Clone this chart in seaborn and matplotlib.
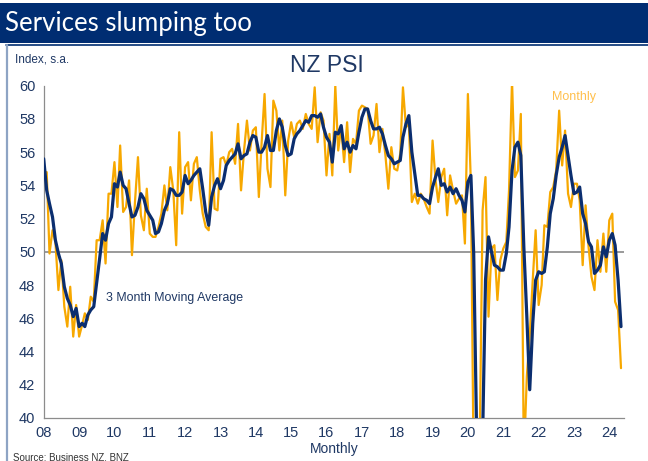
import numpy as np
import pandas as pd
import matplotlib
matplotlib.use('Agg')
import matplotlib.pyplot as plt
import matplotlib.dates as mdates
import seaborn as sns
from matplotlib.patches import Rectangle
from matplotlib.lines import Line2D

# --- Data: NZ Performance of Services Index, Jan 2008 - May 2024 ---
first_month = '2008-01-01'
last_month = '2024-05-01'

monthly = [
    54.0, 54.8, 49.9, 51.3, 50.6, 47.7, 49.5, 46.7, 45.5, 47.9, 44.9, 46.8,  # 2008
    44.9, 45.6, 46.3, 45.9, 47.3, 47.0, 50.7, 50.7, 51.9, 49.3, 53.5, 53.5,  # 2009
    55.4, 52.7, 56.4, 52.4, 52.7, 54.3, 49.8, 53.0, 55.7, 52.2, 51.3, 53.8,  # 2010
    51.1, 50.9, 50.9, 51.5, 52.3, 54.0, 52.5, 55.1, 53.7, 50.4, 57.2, 52.3,  # 2011
    55.1, 55.4, 53.1, 55.3, 55.7, 53.7, 52.3, 51.5, 51.3, 57.2, 52.6, 52.5,  # 2012
    55.6, 55.7, 55.2, 56.0, 56.2, 55.3, 57.7, 53.7, 56.1, 57.9, 56.1, 57.3,  # 2013
    57.5, 53.3, 56.5, 59.5, 55.0, 53.9, 59.1, 58.5, 56.1, 57.9, 53.4, 56.7,  # 2014
    57.8, 56.9, 57.7, 57.9, 57.4, 58.3, 57.7, 57.4, 59.9, 56.6, 58.4, 57.9,  # 2015
    54.6, 57.1, 54.6, 60.0, 56.1, 57.5, 55.4, 57.8, 54.8, 56.8, 56.5, 58.5,  # 2016
    58.8, 58.7, 58.6, 56.5, 57.0, 58.9, 56.0, 57.4, 55.8, 53.8, 56.3, 55.0,  # 2017
    54.9, 55.9, 59.9, 57.5, 57.7, 53.0, 53.5, 52.9, 53.5, 53.2, 52.7, 52.3,  # 2018
    56.7, 54.3, 53.0, 54.5, 55.0, 52.2, 54.6, 53.7, 52.9, 53.2, 53.4, 50.5,  # 2019
    59.5, 54.1, 36.5, 25.9, 38.0, 52.5, 54.5, 46.1, 50.2, 50.4, 47.1, 49.5,  # 2020
    50.2, 50.6, 53.7, 60.3, 54.5, 54.9, 58.3, 37.5, 42.5, 45.0, 48.3, 51.3,  # 2021
    46.8, 48.0, 51.6, 51.5, 53.6, 53.9, 54.9, 58.5, 55.2, 57.3, 53.5, 52.7,  # 2022
    54.1, 54.1, 53.1, 49.2, 52.8, 50.3, 48.5, 47.7, 50.7, 48.8, 51.1, 48.8,  # 2023
    51.9, 52.3, 47.0, 46.5, 43.0,                                            # 2024
]

moving_avg = [
    55.6, 53.7, 52.9, 52.1, 50.7, 49.9, 49.3, 47.9, 47.2, 46.8, 46.1, 46.6,  # 2008
    45.5, 45.7, 45.5, 46.2, 46.5, 46.7, 48.1, 49.6, 51.1, 50.7, 51.7, 52.1,  # 2009
    54.1, 53.9, 54.8, 54.0, 53.8, 52.9, 52.1, 52.2, 52.7, 53.5, 53.2, 52.5,  # 2010
    52.2, 51.9, 51.1, 51.2, 51.7, 52.5, 52.9, 53.8, 53.7, 53.4, 53.4, 53.6,  # 2011
    54.6, 54.1, 54.3, 54.6, 54.8, 55.0, 53.8, 52.4, 51.6, 53.3, 54.0, 54.4,  # 2012
    53.8, 54.3, 55.2, 55.5, 55.7, 55.9, 56.5, 55.6, 55.8, 55.9, 56.6, 57.0,  # 2013
    56.9, 56.0, 56.0, 56.3, 57.0, 56.1, 56.1, 57.3, 58.0, 57.5, 56.4, 55.8,  # 2014
    55.9, 56.8, 57.1, 57.3, 57.6, 57.9, 57.8, 58.2, 58.2, 58.1, 58.3, 57.5,  # 2015
    56.9, 56.6, 55.4, 57.2, 57.1, 57.6, 56.2, 56.6, 56.0, 56.4, 56.2, 57.2,  # 2016
    58.1, 58.6, 58.6, 57.9, 57.4, 57.4, 57.5, 57.1, 56.4, 55.8, 55.6, 55.3,  # 2017
    55.4, 55.5, 56.9, 57.7, 58.2, 56.0, 54.7, 53.4, 53.4, 53.2, 53.1, 52.9,  # 2018
    53.9, 54.5, 55.0, 54.0, 54.1, 53.6, 53.9, 53.5, 53.8, 53.4, 53.1, 52.4,  # 2019
    54.2, 54.6, 49.9, 38.8, 33.5, 38.8, 48.3, 50.9, 50.0, 49.2, 49.1, 48.9,  # 2020
    48.9, 49.9, 51.5, 54.9, 56.3, 56.6, 55.8, 50.3, 46.1, 41.7, 45.7, 48.3,  # 2021
    48.8, 48.7, 48.8, 50.3, 52.3, 53.2, 54.6, 55.7, 56.3, 57.0, 55.8, 54.6,  # 2022
    53.5, 53.6, 53.9, 52.3, 51.7, 50.6, 50.3, 48.7, 48.9, 49.2, 50.3, 49.7,  # 2023
    50.7, 51.1, 50.4, 48.3, 45.5,                                            # 2024
]

y_ticks = [40, 42, 44, 46, 48, 50, 52, 54, 56, 58, 60]

navy = '#0B2E6F'
orange = '#F7A800'
text_blue = '#1F3864'
bar_blue = '#002D72'

dates = pd.date_range(first_month, last_month, freq='MS')
df = pd.DataFrame({'date': dates, 'Monthly': monthly, 'MA': moving_avg})

sns.set_style('white')
plt.rcParams['font.family'] = ['Liberation Sans', 'DejaVu Sans']

fig = plt.figure(figsize=(6.48, 4.61), dpi=100)
W, H = 648, 461

# title bar
fig.patches.append(Rectangle((0, 1 - 43 / H), 1, 40 / H, transform=fig.transFigure,
                             facecolor=bar_blue, edgecolor='none', zorder=0))
fig.text(5 / W, 1 - 24 / H, 'Services slumping too', color='white', fontsize=18.5,
         family=['Lato', 'DejaVu Sans'], va='center', ha='left')
# frame lines around chart panel
fig.add_artist(Line2D([6 / W, 1], [1 - 45 / H, 1 - 45 / H], transform=fig.transFigure,
                      color=bar_blue, lw=1.2))
fig.add_artist(Line2D([6.5 / W, 6.5 / W], [0, 1 - 45 / H], transform=fig.transFigure,
                      color='#8EA4C4', lw=1.6))

ax = fig.add_axes([43.7 / W, 1 - 418 / H, (624 - 43.7) / W, (418 - 85.7) / H])

ax.axhline(50, color='#7F7F7F', lw=1.1, zorder=1)
sns.lineplot(data=df, x='date', y='Monthly', ax=ax, color=orange, lw=1.6, zorder=2)
sns.lineplot(data=df, x='date', y='MA', ax=ax, color=navy, lw=2.3, zorder=3)

ax.set_ylim(40, 60)
ax.set_yticks(y_ticks)
ax.set_xlim(pd.Timestamp('2008-01-01'), pd.Timestamp('2024-06-01'))
ax.xaxis.set_major_locator(mdates.YearLocator())
ax.xaxis.set_major_formatter(mdates.DateFormatter('%y'))

for s in ['top', 'right']:
    ax.spines[s].set_visible(False)
for s in ['left', 'bottom']:
    ax.spines[s].set_color('#8C8C8C')
    ax.spines[s].set_linewidth(0.9)
ax.tick_params(axis='both', direction='out', length=4, width=0.9, color='#8C8C8C',
               labelcolor=text_blue, labelsize=10.5, pad=2)
ax.set_xlabel('Monthly', color=text_blue, fontsize=10, labelpad=1)
ax.set_ylabel('')

# annotations
ax.text(0.488, 1.06, 'NZ PSI', transform=ax.transAxes, ha='center', va='center',
        fontsize=16.5, color=text_blue)
ax.text(pd.Timestamp('2009-10-05'), 47.2, '3 Month Moving Average', color=text_blue,
        fontsize=8.9, va='center', ha='left')
ax.text(pd.Timestamp('2023-01-01'), 59.3, 'Monthly', color='#FFC04D', fontsize=9,
        va='center', ha='center')
fig.text(15 / W, 1 - 59 / H, 'Index, s.a.', color=text_blue, fontsize=8.5, va='center')
fig.text(13 / W, 1 - 457 / H, 'Source: Business NZ, BNZ', color='#333333', fontsize=7,
         va='center')

fig.savefig('out.png', dpi=100)
